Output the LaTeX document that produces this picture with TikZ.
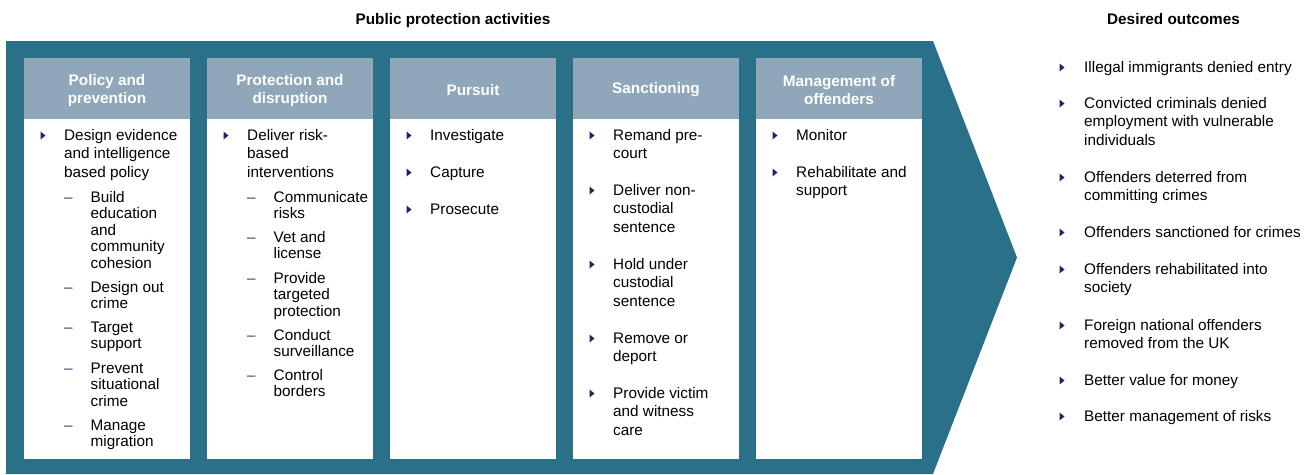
\documentclass[tikz,border=0pt]{standalone}
\usepackage{fontspec}
\setmainfont{Liberation Sans}
\definecolor{teal}{HTML}{2B7089}
\definecolor{hdrcol}{HTML}{8FA7B9}
\definecolor{bulcol}{HTML}{23235F}
\definecolor{dashcol}{HTML}{3C3C86}
\tikzset{
  txt/.style={anchor=north west, inner sep=0pt, align=left, font=\fontsize{15.3}{18.5}\selectfont},
  subtxt/.style={anchor=north west, inner sep=0pt, align=left, font=\fontsize{15.3}{16.5}\selectfont},
  dashn/.style={anchor=north west, inner sep=0pt, text=dashcol, font=\fontsize{15.3}{16.5}\selectfont},
  hdr/.style={fill=hdrcol, draw=none, minimum width=166pt, minimum height=61pt, inner sep=0pt},
  hdrtxt/.style={inner sep=0pt, align=center, text=white, font=\bfseries\fontsize{15.3}{18}\selectfont},
  body/.style={fill=white, draw=none, minimum width=166pt, minimum height=340pt, inner sep=0pt},
  title/.style={inner sep=0pt, anchor=base, font=\bfseries\fontsize{15.3}{18}\selectfont}
}
\newcommand\mitem[4]{%
  \fill[bulcol] (#2+16.5,#3-0.5) -- (#2+21.5,#3-4.5) -- (#2+16.5,#3-8.5) -- cycle;
  \node[txt] (#1) at (#2+40,#3-12) {\rule{0pt}{12pt}#4};}
\newcommand\sitem[4]{%
  \node[dashn] (#1d) at (#2+40,#3-12) {\rule{0pt}{12pt}\textendash};
  \node[subtxt] (#1) at (#2+66.5,#3-12) {\rule{0pt}{12pt}#4};}
\newcommand\ritem[3]{%
  \fill[bulcol] (1059.5,#2-0.5) -- (1064.5,#2-4.5) -- (1059.5,#2-8.5) -- cycle;
  \node[txt] (#1) at (1084,#2-12) {\rule{0pt}{12pt}#3};}
\begin{document}
\begin{tikzpicture}[x=1pt,y=-1pt]
\useasboundingbox (0,0) rectangle (1316,474);
% titles
\node[title] (t1) at (453,24) {Public protection activities};
\node[title] (t2) at (1173.5,24.5) {Desired outcomes};
% big arrow
\fill[teal] (6,41) -- (933,41) -- (1017,257.5) -- (933,474) -- (6,474) -- cycle;
% columns
\foreach \i/\x in {1/107,2/290,3/473,4/656,5/839}{
  \node[body] (w\i) at (\x,289) {};
  \node[hdr] (h\i) at (\x,88.5) {};
}
\node[hdrtxt] (h1t) at (107,90.5) {Policy and\\prevention};
\node[hdrtxt] (h2t) at (290,90.5) {Protection and\\disruption};
\node[hdrtxt] (h3t) at (473,90) {Pursuit};
\node[hdrtxt] (h4t) at (656,90) {Sanctioning};
\node[hdrtxt] (h5t) at (839,90.5) {Management of\\offenders};
% column 1
\mitem{a1}{24}{140}{Design evidence\\and intelligence\\based policy}
\sitem{a2}{24}{202}{Build\\education\\and\\community\\cohesion}
\sitem{a3}{24}{292}{Design out\\crime}
\sitem{a4}{24}{332}{Target\\support}
\sitem{a5}{24}{373}{Prevent\\situational\\crime}
\sitem{a6}{24}{430}{Manage\\migration}
% column 2
\mitem{b1}{207}{140}{Deliver risk-\\based\\interventions}
\sitem{b2}{207}{202}{Communicate\\risks}
\sitem{b3}{207}{242}{Vet and\\license}
\sitem{b4}{207}{283}{Provide\\targeted\\protection}
\sitem{b5}{207}{340}{Conduct\\surveillance}
\sitem{b6}{207}{380}{Control\\borders}
% column 3
\mitem{c1}{390}{140}{Investigate}
\mitem{c2}{390}{177}{Capture}
\mitem{c3}{390}{214}{Prosecute}
% column 4
\mitem{d1}{573}{140}{Remand pre-\\court}
\mitem{d2}{573}{195}{Deliver non-\\custodial\\sentence}
\mitem{d3}{573}{269}{Hold under\\custodial\\sentence}
\mitem{d4}{573}{343}{Remove or\\deport}
\mitem{d5}{573}{398}{Provide victim\\and witness\\care}
% column 5
\mitem{e1}{756}{140}{Monitor}
\mitem{e2}{756}{177}{Rehabilitate and\\support}
% outcomes
\ritem{o1}{72}{Illegal immigrants denied entry}
\ritem{o2}{108}{Convicted criminals denied\\employment with vulnerable\\individuals}
\ritem{o3}{182}{Offenders deterred from\\committing crimes}
\ritem{o4}{237}{Offenders sanctioned for crimes}
\ritem{o5}{274}{Offenders rehabilitated into\\society}
\ritem{o6}{330}{Foreign national offenders\\removed from the UK}
\ritem{o7}{385}{Better value for money}
\ritem{o8}{421}{Better management of risks}
\end{tikzpicture}
\end{document}
